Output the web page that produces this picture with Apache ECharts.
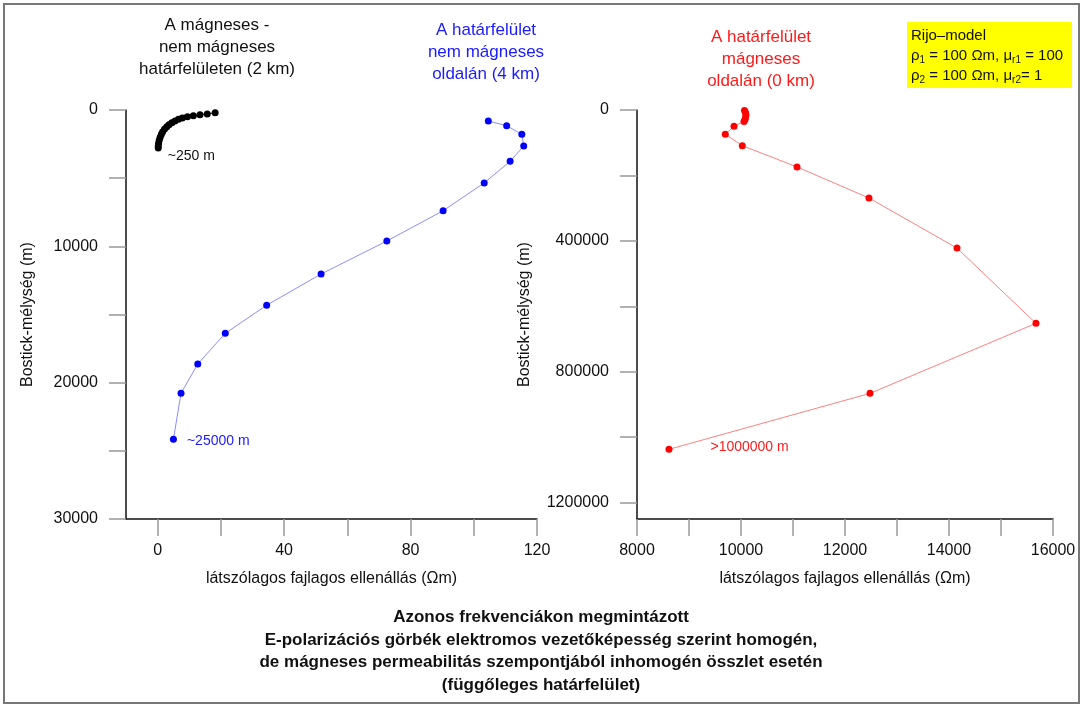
<!DOCTYPE html>
<html>
<head>
<meta charset="utf-8">
<script src="https://cdn.jsdelivr.net/npm/echarts@6/dist/echarts.min.js"></script>
<style>
  html, body { margin: 0; padding: 0; background: #fff; }
  #chart { width: 1083px; height: 707px; }
</style>
</head>
<body>
<div id="chart"></div>
<script>
// Apparent resistivity (Ωm) vs. Bostick depth (m)
// Curve at the magnetic / non-magnetic boundary (2 km)
const blackRes   = [18.2, 15.7, 13.4, 11.3, 9.4, 7.8, 6.6, 5.5, 4.5, 3.6, 2.9, 2.2, 1.6, 1.2, 0.8, 0.5, 0.3, 0.2, 0.2];
const blackDepth = [200, 290, 340, 415, 490, 590, 685, 805, 930, 1075, 1220, 1390, 1590, 1785, 2005, 2225, 2445, 2640, 2785];
// Curve on the non-magnetic side (4 km)
const blueRes   = [104.6, 110.4, 115.2, 115.8, 111.5, 103.3, 90.3, 72.5, 51.7, 34.5, 21.4, 12.7, 7.4, 5.0];
const blueDepth = [810, 1150, 1780, 2640, 3760, 5350, 7390, 9610, 12030, 14320, 16380, 18630, 20780, 24150];
// Curve on the magnetic side (0 km)
const redRes   = [10067, 10087, 10096, 10087, 10077, 10058, 9865, 9698, 10025, 11077, 12461, 14154, 15673, 12481, 8615];
const redDepth = [1500, 7700, 15300, 23000, 29000, 35000, 50000, 74000, 109000, 174000, 269000, 422000, 652000, 866000, 1037000];

// Axis ticks and labels
const leftXTicks  = [0, 20, 40, 60, 80, 100, 120];
const leftXLabels = [0, 40, 80, 120];
const leftYTicks  = [0, 5000, 10000, 15000, 20000, 25000, 30000];
const leftYLabels = [0, 10000, 20000, 30000];
const rightXTicks  = [8000, 9000, 10000, 11000, 12000, 13000, 14000, 15000, 16000];
const rightXLabels = [8000, 10000, 12000, 14000, 16000];
const rightYTicks  = [0, 200000, 400000, 600000, 800000, 1000000, 1200000];
const rightYLabels = [0, 400000, 800000, 1200000];

// Texts
const xName = 'látszólagos fajlagos ellenállás (Ωm)';
const yName = 'Bostick-mélység (m)';
const blackTitle = 'A mágneses -\nnem mágneses\nhatárfelületen (2 km)';
const blueTitle  = 'A határfelület\nnem mágneses\noldalán (4 km)';
const redTitle   = 'A határfelület\nmágneses\noldalán (0 km)';
const blackEnd = '~250 m';
const blueEnd  = '~25000 m';
const redEnd   = '>1000000 m';
const mainTitle = 'Azonos frekvenciákon megmintázott\nE-polarizációs görbék elektromos vezetőképesség szerint homogén,\nde mágneses permeabilitás szempontjából inhomogén összlet esetén\n(függőleges határfelület)';

const FONT = 'Liberation Sans, Arial, sans-serif';
const plain = (v) => String(v);

function pairs(xs, ys, endLabel, labelOpts) {
  return xs.map((x, i) => {
    const item = { value: [x, ys[i]] };
    if (i === xs.length - 1) {
      item.label = Object.assign({ show: true, formatter: endLabel, fontFamily: FONT, fontSize: 14 }, labelOpts);
    }
    return item;
  });
}

function xAxis(gridIndex, min, max, ticks, labels) {
  return {
    gridIndex, type: 'value', min, max,
    name: xName, nameLocation: 'middle', nameGap: 52,
    nameTextStyle: { fontFamily: FONT, fontSize: 16, color: '#111' },
    splitLine: { show: false },
    axisLine: { onZero: false, lineStyle: { color: '#111', width: 1.5 } },
    axisTick: { customValues: ticks, length: 17, lineStyle: { color: '#999', width: 1.5 } },
    axisLabel: { customValues: labels, formatter: plain, margin: 24, fontFamily: FONT, fontSize: 16, color: '#111' }
  };
}

function yAxis(gridIndex, max, ticks, labels, nameGap) {
  return {
    gridIndex, type: 'value', min: 0, max, inverse: true,
    name: yName, nameLocation: 'middle', nameGap, nameRotate: 90,
    nameTextStyle: { fontFamily: FONT, fontSize: 16, color: '#111' },
    splitLine: { show: false },
    axisLine: { onZero: false, lineStyle: { color: '#111', width: 1.5 } },
    axisTick: { customValues: ticks, length: 17, lineStyle: { color: '#999', width: 1.5 } },
    axisLabel: { customValues: labels, formatter: plain, margin: 28, fontFamily: FONT, fontSize: 16, color: '#111' }
  };
}

const chart = echarts.init(document.getElementById('chart'), null, { renderer: 'canvas' });

chart.setOption({
  backgroundColor: '#fff',
  animation: false,
  grid: [
    { left: 126, top: 110, width: 411, height: 409 },
    { left: 637, top: 110, width: 416, height: 409 }
  ],
  xAxis: [
    xAxis(0, -10, 120, leftXTicks, leftXLabels),
    xAxis(1, 8000, 16000, rightXTicks, rightXLabels)
  ],
  yAxis: [
    yAxis(0, 30000, leftYTicks, leftYLabels, 90),
    yAxis(1, 1250000, rightYTicks, rightYLabels, 104)
  ],
  series: [
    {
      type: 'line', xAxisIndex: 0, yAxisIndex: 0,
      data: pairs(blackRes, blackDepth, blackEnd, { position: 'right', distance: 6, offset: [0, 8], color: '#111' }),
      symbol: 'circle', symbolSize: 7, showAllSymbol: true,
      itemStyle: { color: '#000' }, lineStyle: { color: '#000', width: 1 }
    },
    {
      type: 'line', xAxisIndex: 0, yAxisIndex: 0,
      data: pairs(blueRes, blueDepth, blueEnd, { position: 'right', distance: 10, offset: [0, 2], color: '#1a1aff' }),
      symbol: 'circle', symbolSize: 7, showAllSymbol: true,
      itemStyle: { color: '#0000ff' }, lineStyle: { color: '#8c8cff', width: 1 }
    },
    {
      type: 'line', xAxisIndex: 1, yAxisIndex: 1,
      data: pairs(redRes, redDepth, redEnd, { position: 'right', distance: 38, offset: [0, -2], color: '#ff1a1a' }),
      symbol: 'circle', symbolSize: 7, showAllSymbol: true,
      itemStyle: { color: '#ff0000' }, lineStyle: { color: '#ff8080', width: 1 }
    }
  ],
  graphic: [
    {
      type: 'rect', silent: true,
      shape: { x: 4, y: 4, width: 1075, height: 699 },
      style: { fill: 'none', stroke: '#777', lineWidth: 2 }
    },
    {
      type: 'text', x: 217, y: 14,
      style: { text: blackTitle, fill: '#111', font: '17px ' + FONT, textAlign: 'center', lineHeight: 22 }
    },
    {
      type: 'text', x: 486, y: 19,
      style: { text: blueTitle, fill: '#1a1aff', font: '17px ' + FONT, textAlign: 'center', lineHeight: 22 }
    },
    {
      type: 'text', x: 761, y: 26,
      style: { text: redTitle, fill: '#ff1a1a', font: '17px ' + FONT, textAlign: 'center', lineHeight: 22 }
    },
    {
      type: 'rect', silent: true,
      shape: { x: 907, y: 22, width: 165, height: 66 },
      style: { fill: '#ffff00' }
    },
    {
      type: 'text', x: 911, y: 26,
      style: {
        text: '{t|Rijo–model}\n{t|ρ}{s|1}{t| = 100 Ωm, μ}{s|r1}{t| = 100}\n{t|ρ}{s|2}{t| = 100 Ωm, μ}{s|r2}{t|= 1}',
        fill: '#111', font: '15px ' + FONT, lineHeight: 20,
        rich: {
          t: { fontFamily: FONT, fontSize: 15, fill: '#111', lineHeight: 20 },
          s: { fontFamily: FONT, fontSize: 10, fill: '#111', padding: [8, 0, 0, 0], lineHeight: 20 }
        }
      }
    },
    {
      type: 'text', x: 541, y: 606,
      style: { text: mainTitle, fill: '#111', font: 'bold 17px ' + FONT, textAlign: 'center', lineHeight: 22.7 }
    }
  ]
});
</script>
</body>
</html>
